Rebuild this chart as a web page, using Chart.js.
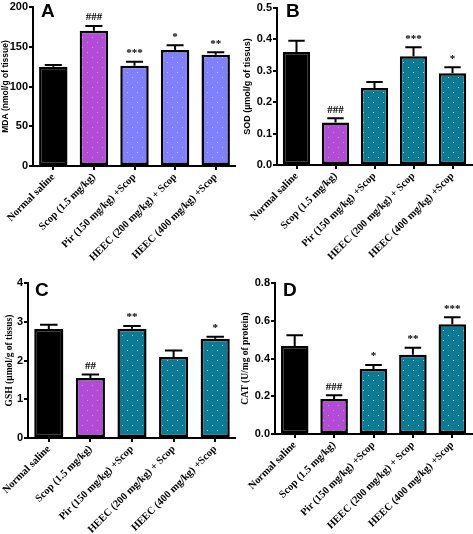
<!DOCTYPE html>
<html>
<head>
<meta charset="utf-8">
<script src="https://cdn.jsdelivr.net/npm/chart.js@4"></script>
<style>
  body { margin: 0; background: #fff; }
  #wrap { position: relative; width: 473px; height: 534px; }
  .panel { position: absolute; }
</style>
</head>
<body>
<div id="wrap">
  <div class="panel" style="left:0;top:0;width:236px;height:268px"><canvas id="chartA" width="236" height="268"></canvas></div>
  <div class="panel" style="left:236px;top:0;width:237px;height:268px"><canvas id="chartB" width="237" height="268"></canvas></div>
  <div class="panel" style="left:0;top:268px;width:236px;height:266px"><canvas id="chartC" width="236" height="266"></canvas></div>
  <div class="panel" style="left:236px;top:268px;width:237px;height:266px"><canvas id="chartD" width="237" height="266"></canvas></div>
</div>
<script>
// groups on the x axis
const groups = ['Normal saline', 'Scop (1.5 mg/kg)', 'Pir (150 mg/kg) +Scop', 'HEEC (200 mg/kg) + Scop', 'HEEC (400 mg/kg) +Scop'];

// A - MDA
const mdaMean = [125, 170, 126, 146, 140];
const mdaSem = [2, 6, 5, 6, 3];
const mdaSig = ['', '###', '***', '*', '**'];

// B - SOD
const sodMean = [0.36, 0.135, 0.245, 0.346, 0.292];
const sodSem = [0.036, 0.014, 0.019, 0.029, 0.019];
const sodSig = ['', '###', '', '***', '*'];

// C - GSH
const gshMean = [2.81, 1.55, 2.82, 2.09, 2.56];
const gshSem = [0.11, 0.09, 0.07, 0.17, 0.05];
const gshSig = ['', '##', '**', '', '*'];

// D - CAT
const catMean = [0.466, 0.185, 0.345, 0.42, 0.582];
const catSem = [0.057, 0.02, 0.02, 0.037, 0.037];
const catSig = ['', '###', '*', '**', '***'];

const BLACK = '#000000';
const PURPLE = '#b24bd6';
const BLUE = '#8080ff';
const TEAL = '#0c7a93';

// sparse dotted fill like the original stipple
function stipple(base, dot) {
  const c = document.createElement('canvas');
  c.width = 10; c.height = 10;
  const g = c.getContext('2d');
  g.fillStyle = base;
  g.fillRect(0, 0, 10, 10);
  g.fillStyle = dot;
  g.fillRect(2, 7, 1, 1);
  g.fillRect(7, 2, 1, 1);
  return g.createPattern(c, 'repeat');
}

const extras = {
  id: 'extras',
  afterDatasetsDraw(chart, args, opts) {
    const ctx = chart.ctx;
    const y = chart.scales.y;
    const meta = chart.getDatasetMeta(0);
    const vals = chart.data.datasets[0].data;
    ctx.save();
    meta.data.forEach((bar, i) => {
      const top = y.getPixelForValue(vals[i] + opts.sem[i]);
      const half = bar.width * 0.3;
      ctx.strokeStyle = '#000';
      ctx.lineWidth = 2;
      ctx.beginPath();
      ctx.moveTo(bar.x, bar.y);
      ctx.lineTo(bar.x, top);
      ctx.moveTo(bar.x - half, top);
      ctx.lineTo(bar.x + half, top);
      ctx.stroke();
      if (opts.sig[i]) {
        ctx.fillStyle = '#000';
        ctx.font = 'bold 11px "Liberation Serif", serif';
        ctx.textAlign = 'center';
        ctx.textBaseline = 'bottom';
        ctx.fillText(opts.sig[i], bar.x, top - 3);
      }
    });
    ctx.fillStyle = '#000';
    ctx.font = 'bold 19px "Liberation Sans", Arial, sans-serif';
    ctx.textAlign = 'left';
    ctx.textBaseline = 'top';
    ctx.fillText(opts.letter, chart.chartArea.left + opts.letterDx, chart.chartArea.top - opts.letterDy);
    ctx.restore();
  }
};

function makeChart(id, cfg) {
  const canvas = document.getElementById(id);
  const ctx = canvas.getContext('2d');
  const colors = cfg.colors.map((c, i) => i === 0 ? c : stipple(c, i === 1 ? '#cf86ea' : '#9fd6e6'));
  return new Chart(ctx, {
    type: 'bar',
    data: {
      labels: groups,
      datasets: [{
        data: cfg.mean,
        backgroundColor: colors,
        borderColor: '#000',
        borderWidth: 2.5,
        borderSkipped: false,
        categoryPercentage: 1,
        barPercentage: 0.7
      }]
    },
    options: {
      responsive: false,
      animation: false,
      devicePixelRatio: 1,
      layout: { padding: { top: cfg.top, left: 0, right: cfg.right, bottom: 0 } },
      plugins: {
        legend: { display: false },
        tooltip: { enabled: false },
        extras: { sem: cfg.sem, sig: cfg.sig, letter: cfg.letter, letterDx: cfg.letterDx, letterDy: cfg.letterDy }
      },
      scales: {
        x: {
          afterFit(s) { s.height = cfg.xHeight; s.paddingLeft = 0; s.paddingRight = 0; },
          grid: { display: true, drawOnChartArea: false, offset: false, color: '#000', lineWidth: 2, tickLength: 4 },
          border: { display: true, color: '#000', width: 2 },
          ticks: {
            color: '#000',
            autoSkip: false,
            maxRotation: 45,
            minRotation: 45,
            padding: 1,
            font: { family: '"Liberation Serif", serif', weight: 'bold', size: 10.5 }
          }
        },
        y: {
          min: 0,
          max: cfg.max,
          afterFit(s) { s.width = cfg.left; s.paddingTop = 0; s.paddingBottom = 0; },
          grid: { display: true, drawOnChartArea: false, color: '#000', lineWidth: 2, tickLength: 4 },
          border: { display: true, color: '#000', width: 2 },
          title: {
            display: true,
            text: cfg.title,
            color: '#000',
            padding: { top: cfg.titlePad, bottom: 0 },
            font: { family: cfg.titleFont, weight: 'bold', size: cfg.titleSize }
          },
          ticks: {
            color: '#000',
            stepSize: cfg.step,
            padding: 1,
            font: { family: '"Liberation Sans", Arial, sans-serif', weight: 'bold', size: 11 },
            callback: (v) => cfg.decimals ? Number(v).toFixed(1) : v
          }
        }
      }
    },
    plugins: [extras]
  });
}

makeChart('chartA', {
  mean: mdaMean, sem: mdaSem, sig: mdaSig, letter: 'A', letterDx: 8, letterDy: 5,
  colors: [BLACK, PURPLE, BLUE, BLUE, BLUE],
  title: 'MDA (nmol/g of tissue)', titleFont: '"Liberation Sans", Arial, sans-serif', titleSize: 8.5, titlePad: 1,
  max: 200, step: 50, decimals: false,
  top: 7, right: 0, left: 33, xHeight: 102
});

makeChart('chartB', {
  mean: sodMean, sem: sodSem, sig: sodSig, letter: 'B', letterDx: 9, letterDy: 6,
  colors: [BLACK, PURPLE, TEAL, TEAL, TEAL],
  title: 'SOD (µmol/g of tissus)', titleFont: '"Liberation Sans", Arial, sans-serif', titleSize: 9, titlePad: 6,
  max: 0.5, step: 0.1, decimals: true,
  top: 8, right: 1, left: 41, xHeight: 103
});

makeChart('chartC', {
  mean: gshMean, sem: gshSem, sig: gshSig, letter: 'C', letterDx: 7, letterDy: 2,
  colors: [BLACK, PURPLE, TEAL, TEAL, TEAL],
  title: 'GSH (µmol/g of tissus)', titleFont: '"Liberation Serif", serif', titleSize: 9.5, titlePad: 4,
  max: 4, step: 1, decimals: false,
  top: 15, right: 0, left: 28, xHeight: 96
});

makeChart('chartD', {
  mean: catMean, sem: catSem, sig: catSig, letter: 'D', letterDx: 8, letterDy: 2,
  colors: [BLACK, PURPLE, TEAL, TEAL, TEAL],
  title: 'CAT (U/mg of protein)', titleFont: '"Liberation Serif", serif', titleSize: 9.5, titlePad: 4,
  max: 0.8, step: 0.2, decimals: true,
  top: 15, right: 1, left: 39, xHeight: 100
});
</script>
</body>
</html>
